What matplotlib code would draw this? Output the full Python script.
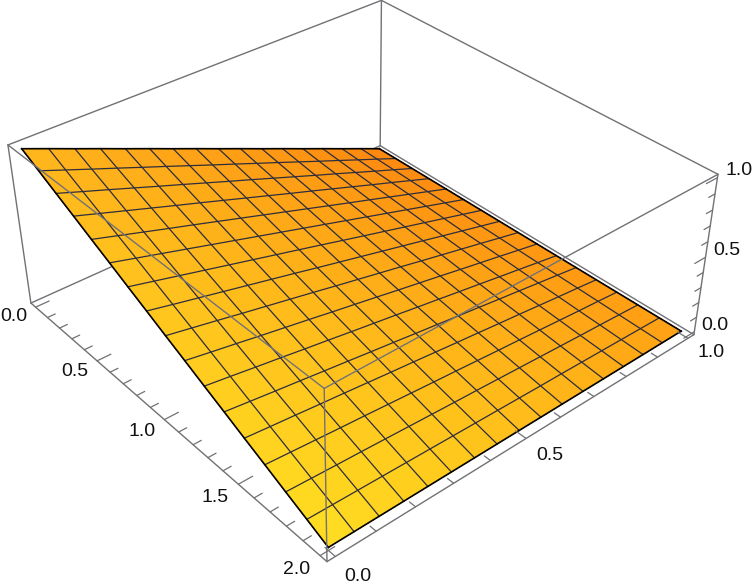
import numpy as np
import matplotlib
matplotlib.use("Agg")
import matplotlib.pyplot as plt
from mpl_toolkits.mplot3d import proj3d

# ---- data -------------------------------------------------------------
x_values = [0, .125, .25, .375, .5, .625, .75, .875, 1, 1.125, 1.25, 1.375, 1.5, 1.625, 1.75, 1.875, 2]
y_values = [0, .0625, .125, .1875, .25, .3125, .375, .4375, .5, .5625, .625, .6875, .75, .8125, .875, .9375, 1]
z_rows = [
 [1.000,.938,.875,.813,.750,.688,.625,.563,.500,.438,.375,.313,.250,.188,.125,.063,0],
 [.938,.879,.820,.762,.703,.645,.586,.527,.469,.410,.352,.293,.234,.176,.117,.059,0],
 [.875,.820,.766,.711,.656,.602,.547,.492,.438,.383,.328,.273,.219,.164,.109,.055,0],
 [.813,.762,.711,.660,.609,.559,.508,.457,.406,.355,.305,.254,.203,.152,.102,.051,0],
 [.750,.703,.656,.609,.563,.516,.469,.422,.375,.328,.281,.234,.188,.141,.094,.047,0],
 [.688,.645,.602,.559,.516,.473,.430,.387,.344,.301,.258,.215,.172,.129,.086,.043,0],
 [.625,.586,.547,.508,.469,.430,.391,.352,.313,.273,.234,.195,.156,.117,.078,.039,0],
 [.563,.527,.492,.457,.422,.387,.352,.316,.281,.246,.211,.176,.141,.105,.070,.035,0],
 [.500,.469,.438,.406,.375,.344,.313,.281,.250,.219,.188,.156,.125,.094,.063,.031,0],
 [.438,.410,.383,.355,.328,.301,.273,.246,.219,.191,.164,.137,.109,.082,.055,.027,0],
 [.375,.352,.328,.305,.281,.258,.234,.211,.188,.164,.141,.117,.094,.070,.047,.023,0],
 [.313,.293,.273,.254,.234,.215,.195,.176,.156,.137,.117,.098,.078,.059,.039,.020,0],
 [.250,.234,.219,.203,.188,.172,.156,.141,.125,.109,.094,.078,.063,.047,.031,.016,0],
 [.188,.176,.164,.152,.141,.129,.117,.105,.094,.082,.070,.059,.047,.035,.023,.012,0],
 [.125,.117,.109,.102,.094,.086,.078,.070,.063,.055,.047,.039,.031,.023,.016,.008,0],
 [.063,.059,.055,.051,.047,.043,.039,.035,.031,.027,.023,.020,.016,.012,.008,.004,0],
 [0,0,0,0,0,0,0,0,0,0,0,0,0,0,0,0,0],
]
x_ticks = [0, .1, .2, .3, .4, .5, .6, .7, .8, .9, 1, 1.1, 1.2, 1.3, 1.4, 1.5, 1.6, 1.7, 1.8, 1.9, 2]
y_ticks = [0, .1, .2, .3, .4, .5, .6, .7, .8, .9, 1]
z_ticks = [0, .1, .2, .3, .4, .5, .6, .7, .8, .9, 1]
x_labelled = [0, .5, 1, 1.5, 2]
yz_labelled = [0, .5, 1]

# ---- layout / style -----------------------------------------------------
W, H = 754, 586
X0, X1, Y0, Y1, Z0, Z1 = -.04, 2.04, -.02, 1.02, -.02, 1.02
# camera calibration: box corner -> reference pixel
camera = [
    ((X0, Y0, Z1), (8, 145)), ((X0, Y1, Z1), (381.5, 0)),
    ((X1, Y1, Z1), (718, 175)), ((X1, Y0, Z1), (324, 388)),
    ((X0, Y0, Z0), (31, 303)), ((X0, Y1, Z0), (380, 146)),
    ((X1, Y1, Z0), (694, 334)), ((X1, Y0, Z0), (327, 562)),
]
BOX = "#717176"
MESH = "#2e2e3c"
corner_colors = {(0, 0): (1, .71, .11), (0, 1): (.99, .53, .06),
                 (1, 0): (1, .87, .13), (1, 1): (1, .63, .08)}

plt.rcParams["font.family"] = ["Liberation Sans", "DejaVu Sans"]
fig = plt.figure(figsize=(W / 100, H / 100), dpi=100)
ax = fig.add_axes([0, (H - W) / 2 / H, 1, W / H], projection="3d",
                  computed_zorder=False, proj_type="ortho")
ax.set_axis_off()
ax.patch.set_alpha(0)
ax.apply_aspect()

# Solve the projective camera from the calibration pairs
rows = []
for (wx, wy, wz), (px, py) in camera:
    wv = [wx, wy, wz, 1]
    rows.append(wv + [0, 0, 0, 0] + [-px * c for c in wv])
    rows.append([0, 0, 0, 0] + wv + [-py * c for c in wv])
P = np.linalg.svd(np.array(rows, float))[2][-1].reshape(3, 4)
if P[2, 3] < 0:
    P = -P
# pixels (top-left origin) -> axes view coordinates
inv = ax.transData.inverted()
o = inv.transform((0, H))
ex = inv.transform((1, H)) - o
ey = inv.transform((0, H - 1)) - o
row_u = o[0] * P[2] + ex[0] * P[0] + ey[0] * P[1]
row_v = o[1] * P[2] + ex[1] * P[0] + ey[1] * P[1]
M = np.array([row_u, row_v, [.1, .2, .3, .05], P[2]])
ax.get_proj = lambda: M


def seg(a, b, z, **kw):
    ax.plot([a[0], b[0]], [a[1], b[1]], [a[2], b[2]], zorder=z, solid_capstyle="round", **kw)


box_kw = dict(color=BOX, lw=1.0)
# back edges, behind the surface
seg((X0, Y0, Z0), (X0, Y1, Z0), 1, **box_kw)
seg((X0, Y1, Z0), (X1, Y1, Z0), 1, **box_kw)
seg((X0, Y1, Z0), (X0, Y1, Z1), 1, **box_kw)

# surface
xg, yg = np.meshgrid(x_values, y_values, indexing="ij")
zg = np.array(z_rows)
u = (xg[:-1, :-1] + xg[1:, 1:]) / 2 / 2
v = (yg[:-1, :-1] + yg[1:, 1:]) / 2
fc = np.zeros(u.shape + (4,))
for ch in range(3):
    fc[..., ch] = ((1 - u) * (1 - v) * corner_colors[(0, 0)][ch] + (1 - u) * v * corner_colors[(0, 1)][ch]
                   + u * (1 - v) * corner_colors[(1, 0)][ch] + u * v * corner_colors[(1, 1)][ch])
fc[..., 3] = 1
ax.plot_surface(xg, yg, zg, facecolors=fc, rstride=1, cstride=1, shade=False,
                linewidth=0.4, edgecolor=None, antialiased=False, zorder=2)

# mesh
for i in range(1, len(x_values) - 1):
    ax.plot(xg[i], yg[i], zg[i], color=MESH, lw=0.9, zorder=3)
for j in range(1, len(y_values) - 1):
    ax.plot(xg[:, j], yg[:, j], zg[:, j], color=MESH, lw=0.9, zorder=3)
# boundary
for xs, ys, zs in [(xg[0], yg[0], zg[0]), (xg[-1], yg[-1], zg[-1]),
                   (xg[:, 0], yg[:, 0], zg[:, 0]), (xg[:, -1], yg[:, -1], zg[:, -1])]:
    ax.plot(xs, ys, zs, color="black", lw=1.2, zorder=3.5)

# front edges, over the surface
for a, b in [((X0, Y0, Z1), (X0, Y1, Z1)), ((X0, Y1, Z1), (X1, Y1, Z1)),
             ((X1, Y1, Z1), (X1, Y0, Z1)), ((X1, Y0, Z1), (X0, Y0, Z1)),
             ((X0, Y0, Z0), (X0, Y0, Z1)), ((X1, Y0, Z0), (X1, Y0, Z1)),
             ((X1, Y1, Z0), (X1, Y1, Z1)),
             ((X0, Y0, Z0), (X1, Y0, Z0)), ((X1, Y0, Z0), (X1, Y1, Z0))]:
    seg(a, b, 4, **box_kw)

# ticks
tick_kw = dict(color=BOX, lw=0.9)
for t in x_ticks:
    L = .035 if t in x_labelled else .02
    seg((t, Y0, Z0), (t, Y0 + L, Z0), 4, **tick_kw)
for t in y_ticks:
    L = .06 if t in yz_labelled else .035
    seg((X1, t, Z0), (X1 - L, t, Z0), 4, **tick_kw)
for t in z_ticks:
    L = .035 if t in yz_labelled else .02
    seg((X1, Y1, t), (X1, Y1 - L, t), 4, **tick_kw)

# tick labels
lab = dict(fontsize=14, ha="center", va="center", color="#111111", zorder=5)


def label(x, y, z, s):
    ux, uy, _ = proj3d.proj_transform(x, y, z, M)
    ax.text2D(ux, uy, s, transform=ax.transData, **lab)


for t in x_labelled:
    label(t, Y0 - .055, Z0, f"{t:.1f}")
for t in yz_labelled:
    label(X1 + .13, t, Z0, f"{t:.1f}")
for t in yz_labelled:
    label(X1 + .06, Y1 + .028, t + .05, f"{t:.1f}")

fig.savefig("out.png", dpi=100)
